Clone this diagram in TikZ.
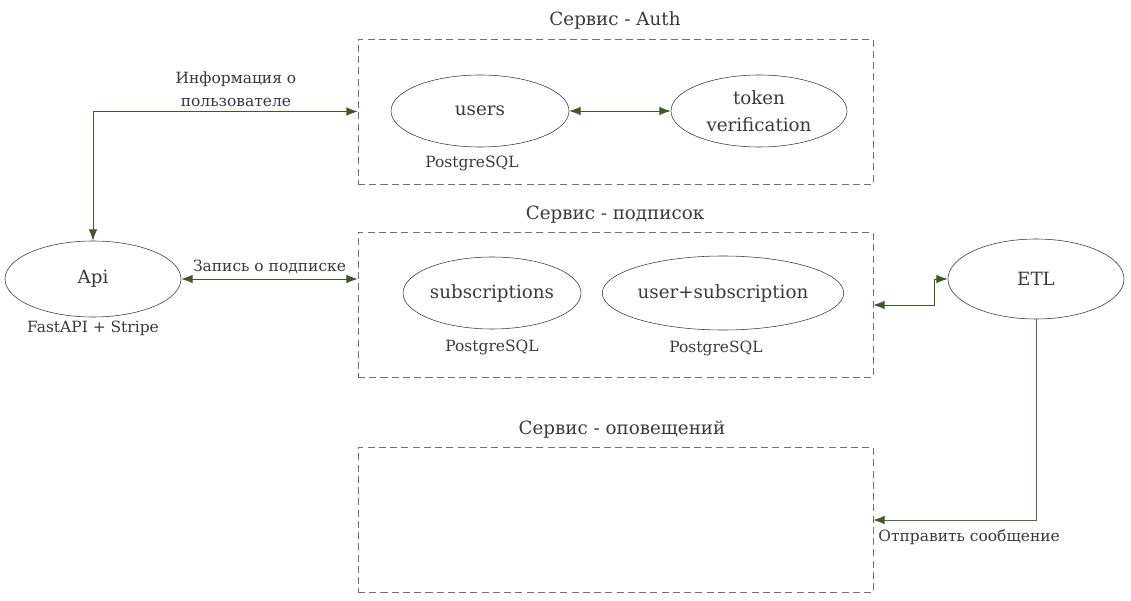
\documentclass[tikz,border=0pt]{standalone}
\usepackage{fontspec}
\setmainfont{DejaVu Serif}
\usetikzlibrary{shapes.geometric,arrows.meta}
\definecolor{linkgreen}{HTML}{3C5A28}
\definecolor{inkgray}{HTML}{3A3A3A}
\tikzset{
  service/.style={draw=gray!90!black, dash pattern=on 5pt off 3pt, minimum width=12.875cm, minimum height=3.625cm},
  store/.style={ellipse, draw=inkgray, thin, inner sep=0pt, text=inkgray, align=center, font=\fontsize{13}{15}\selectfont},
  small/.style={text=inkgray, font=\fontsize{11}{13}\selectfont},
  title/.style={text=inkgray, font=\fontsize{13}{15}\selectfont},
  link/.style={draw=linkgreen, semithick, {Latex[length=8pt,width=6pt]}-{Latex[length=8pt,width=6pt]}},
}
\begin{document}
\begin{tikzpicture}
  \useasboundingbox (0,0) rectangle (28.275,15);
  % services
  \node[service] (auth) at (15.3875,12.2125) {};
  \node[service] (subs) at (15.3875,7.375) {};
  \node[service] (notify) at (15.3875,2.0) {};
  \node[title] (authtitle) at (15.375,14.5) {Сервис - Auth};
  \node[title] (substitle) at (15.375,9.625) {Сервис - подписок};
  \node[title] (notifytitle) at (15.55,4.25) {Сервис - оповещений};
  % stores
  \node[store, minimum width=4.45cm, minimum height=1.8cm] (users) at (12.0,12.225) {users};
  \node[store, minimum width=4.4cm, minimum height=1.8cm] (token) at (18.975,12.225) {token\\[4pt]verification};
  \node[small] (usersdb) at (11.8,10.925) {PostgreSQL};
  \node[store, minimum width=4.45cm, minimum height=1.8cm] (subscr) at (12.3,7.675) {subscriptions};
  \node[store, minimum width=5.65cm, minimum height=1.85cm] (usersub) at (18.075,7.675) {user+subscription};
  \node[small] (subscrdb) at (12.3,6.325) {PostgreSQL};
  \node[small] (usersubdb) at (17.9,6.3) {PostgreSQL};
  % outside
  \node[store, minimum width=4.4cm, minimum height=1.9cm] (api) at (2.325,8.025) {Api};
  \node[small] (apistack) at (2.325,6.8) {FastAPI + Stripe};
  \node[store, minimum width=4.4cm, minimum height=2.0cm] (etl) at (25.9,8.025) {ETL};
  % links
  \draw[link] (api.north) |- (auth.west)
    node[pos=0.77, above, small, align=center] {Информация о\\[3pt]пользователе};
  \draw[link] (users.east) -- (token.west);
  \draw[link] (api.east) -- (api.east -| subs.west)
    node[midway, above, small] {Запись о подписке};
  \draw[link] (subs.east) -- ++(1.525,0) |- (etl.west);
  \draw[link, draw=linkgreen!60!gray, {-Latex[length=8pt,width=6pt,color=linkgreen]}] (etl.south) |- (notify.east)
    node[pos=1, below right, small, yshift=-3pt] {Отправить сообщение};
\end{tikzpicture}
\end{document}
